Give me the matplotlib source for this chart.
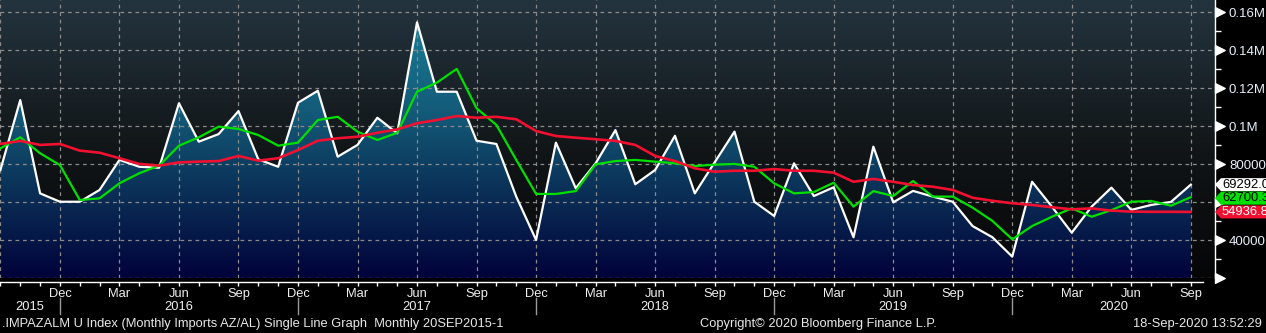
import numpy as np
import pandas as pd
import matplotlib
matplotlib.use("Agg")
import matplotlib.pyplot as plt
from matplotlib.colors import LinearSegmentedColormap
from matplotlib.patches import Polygon
from matplotlib.lines import Line2D
from matplotlib.transforms import IdentityTransform, blended_transform_factory
from matplotlib.path import Path

plt.rcParams['font.family'] = ['Liberation Sans', 'DejaVu Sans']

# monthly imports, Sep 2015 .. Sep 2020
months = pd.period_range('2015-09', '2020-09', freq='M')
imports = [77000, 113800, 64700, 60300, 60300, 66500, 82300, 78700, 78200, 112100,
           91900, 95900, 108000, 82600, 78700, 112400, 118700, 84000, 90200, 104500,
           96300, 154700, 118200, 118200, 92400, 90700, 63000, 40200, 91400, 67400,
           80500, 98000, 69500, 77000, 95000, 64700, 81000, 97200, 60300, 52800,
           80500, 63300, 67900, 41600, 89300, 60000, 66000, 63000, 60300, 47500,
           41600, 31400, 70800, 57700, 44000, 57700, 67700, 56000, 58600, 60200,
           69292.0]
avg_short = [88400, 94200, 85800, 79600, 61200, 62100, 70000, 75300, 79300, 89800,
             94200, 99800, 98600, 95400, 89800, 91400, 103300, 105000, 97200, 92800,
             96600, 118200, 123000, 130200, 109500, 100700, 82300, 64400, 64400, 65900,
             80000, 81700, 82300, 81400, 80500, 79100, 79800, 80200, 78700, 70000,
             64700, 65400, 70300, 57700, 65900, 63300, 71200, 63000, 63000, 57200,
             50200, 40500, 47500, 52400, 56800, 52400, 55900, 60300, 60700, 58200,
             62700.3]
avg_long = [90700, 92300, 90200, 90700, 87200, 86100, 83200, 80200, 79300, 81000,
            81400, 81700, 84400, 81900, 83200, 87500, 92400, 93700, 94500, 96600,
            98400, 101600, 103300, 105400, 104500, 105000, 103700, 97500, 94900, 94000,
            93200, 92300, 90200, 84400, 81700, 77900, 76100, 76600, 76600, 77500,
            76600, 76600, 75600, 70800, 72300, 70800, 69100, 68200, 66500, 62400,
            60800, 59500, 58600, 57400, 56300, 56800, 55600, 55100, 55000, 55000,
            54936.8]

ytick_vals = [20000, 40000, 60000, 80000, 100000, 120000, 140000, 160000]
ytick_labels = ['', '40000', '', '80000', '0.1M', '0.12M', '0.14M', '0.16M']

W, H = 1266, 333
fig = plt.figure(figsize=(W / 100, H / 100), dpi=100, facecolor='black')
ax_bottom = (H - 278.3) / H
ax = fig.add_axes([0, ax_bottom, 1215 / W, 1 - ax_bottom])
ax.set_facecolor('black')

x = np.arange(len(months))
xmin, xmax = -0.02, 61.22
ymin, ymax = 20000, 166470
ax.set_xlim(xmin, xmax)
ax.set_ylim(ymin, ymax)

# background: slate at top fading to black
bg_cmap = LinearSegmentedColormap.from_list(
    'bg', [(0, '#060607'), (0.45, '#111517'), (1, '#24343f')])
ax.imshow(np.linspace(0, 1, 256).reshape(-1, 1), cmap=bg_cmap, origin='lower',
          extent=[xmin, xmax, ymin, ymax], aspect='auto', zorder=0)

# gradient area under the main series
fill_cmap = LinearSegmentedColormap.from_list(
    'fill', [(0, '#01023a'), (0.34, '#0b3258'), (0.62, '#135a78'), (1, '#1a7f99')])
poly = ax.fill_between(x, imports, ymin, color='none', lw=0)
grad = ax.imshow(np.linspace(0, 1, 256).reshape(-1, 1), cmap=fill_cmap, origin='lower',
                 extent=[xmin, xmax, ymin, 160000], aspect='auto', zorder=1)
grad.set_clip_path(poly.get_paths()[0], transform=ax.transData)
ax.set_ylim(ymin, ymax)

# grid
quarter = [i for i, p in enumerate(months) if p.month in (3, 6, 9, 12)]
for v in ytick_vals:
    ax.axhline(v, color='#8a8a8a', lw=0.9, ls=(0, (3, 3)), zorder=2)
for i in quarter:
    ax.axvline(i, color='#8a8a8a', lw=0.9, ls=(0, (3, 3)), zorder=2)

ax.plot(x, imports, color='white', lw=1.6, zorder=4)
ax.plot(x, avg_short, color='#00e000', lw=1.6, zorder=5)
ax.plot(x, avg_long, color='#f01030', lw=1.9, zorder=6)

# spines
for s in ['top', 'left']:
    ax.spines[s].set_visible(False)
ax.spines['right'].set_color('white')
ax.spines['right'].set_linewidth(1)
ax.spines['bottom'].set_color('white')
ax.spines['bottom'].set_linewidth(1)
ax.spines['bottom'].set_position(('outward', 3))
ax.spines['bottom'].set_bounds(xmin, 60.6)

# x axis: month ticks, quarter labels (none at the very first month)
labelled = [i for i in quarter if i > 0]
ax.set_xticks(labelled, [months[i].strftime('%b') for i in labelled])
ax.set_xticks(x, minor=True)
ax.tick_params(axis='x', which='both', direction='out', length=3, width=1,
               color='white', colors='#f0f0f0', labelsize=9.3, pad=1)

# y axis on the right, arrow ticks
ax.yaxis.tick_right()
ax.set_yticks(ytick_vals, ytick_labels)
ax.set_yticks(np.arange(30000, 160001, 20000), minor=True)
ax.tick_params(axis='y', which='major', length=0, pad=10, labelsize=9.5,
               colors='#e6eef8')
ax.tick_params(axis='y', which='minor', direction='out', length=4, width=1,
               color='white')
arrow = Path([(0, -1), (2, 0), (0, 1), (0, -1)],
             [Path.MOVETO, Path.LINETO, Path.LINETO, Path.CLOSEPOLY])
ax.plot([1] * len(ytick_vals), ytick_vals, ls='none', marker=arrow, ms=14,
        color='white', transform=blended_transform_factory(ax.transAxes, ax.transData),
        clip_on=False, zorder=7)


def fig_x(m):
    return (m - xmin) / (xmax - xmin) * (1215 / W)


# year separators and labels
dec_idx = [i for i, p in enumerate(months) if p.month == 12]
for i in dec_idx:
    fig.add_artist(Line2D([fig_x(i)] * 2, [1 - 298 / H, 1 - 314 / H],
                          color='#9a9a9a', lw=1, transform=fig.transFigure))
bounds = [xmin] + dec_idx + [xmax]
years = [str(y) for y in range(2015, 2021)]
for yr, a, b in zip(years, bounds[:-1], bounds[1:]):
    fig.text(fig_x((a + b) / 2), 1 - 307 / H, yr, ha='center', va='center',
             color='#f0f0f0', fontsize=9.3)

# footer
foot_y = 1 - 324 / H
fig.text(2 / W, foot_y, '.IMPAZALM U Index (Monthly Imports AZ/AL) Single Line Graph  '
         'Monthly 20SEP2015-1', color='#e8e8e8', fontsize=9.3, va='center')
fig.text(700 / W, foot_y, 'Copyright\u00a9 2020 Bloomberg Finance L.P.',
         color='#e8e8e8', fontsize=9.3, va='center')
fig.text(1262 / W, foot_y, '18-Sep-2020 13:52:29', color='#e8e8e8', fontsize=9.3,
         va='center', ha='right')

# last-value tags on the right axis
tags = [(imports[-1], 'white', 'black'),
        (avg_short[-1], '#00e000', 'black'),
        (avg_long[-1], '#f01030', 'white')]
prev = None
for val, face, txt in tags:
    yc = ax.transData.transform((0, val))[1]
    if prev is not None and prev - yc < 13.5:
        yc = prev - 13.5
    prev = yc
    h = 6.5
    verts = [(1215, yc), (1221, yc + h), (1275, yc + h), (1275, yc - h), (1221, yc - h)]
    fig.add_artist(Polygon(verts, closed=True, facecolor=face, edgecolor='none',
                           transform=IdentityTransform(), zorder=8))
    fig.text(1222, yc, f'{val:.1f}', color=txt, fontsize=9.4, va='center',
             ha='left', transform=IdentityTransform(), zorder=9)

fig.savefig('out.png', dpi=100, facecolor='black')
